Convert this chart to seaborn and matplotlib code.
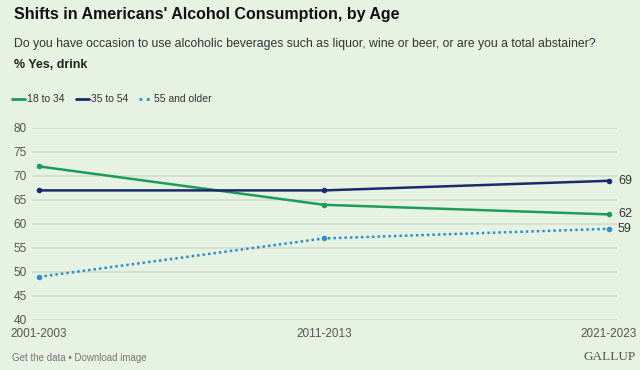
import pandas as pd
import matplotlib
matplotlib.use("Agg")
import matplotlib.pyplot as plt
import seaborn as sns

periods = ["2001-2003", "2011-2013", "2021-2023"]
age_18_34 = [72, 64, 62]
age_35_54 = [67, 67, 69]
age_55_up = [49, 57, 59]
groups = ["18 to 34", "35 to 54", "55 and older"]
yticks = [40, 45, 50, 55, 60, 65, 70, 75, 80]

BG = "#E6F2E2"
GREEN = "#1E9A5A"
NAVY = "#1B2A6B"
BLUE = "#2E8FD0"
colors = {"18 to 34": GREEN, "35 to 54": NAVY, "55 and older": BLUE}

rows = []
for g, vals in zip(groups, [age_18_34, age_35_54, age_55_up]):
    for i, (p, v) in enumerate(zip(periods, vals)):
        rows.append({"pos": i, "period": p, "group": g, "pct": v})
df = pd.DataFrame(rows)

sns.set_style("white")
plt.rcParams["font.family"] = ["Liberation Sans", "DejaVu Sans"]

W, H = 640, 370
fig = plt.figure(figsize=(W / 100, H / 100), dpi=100, facecolor=BG)
ax = fig.add_axes([32 / W, 50 / H, 585 / W, 192 / H], facecolor=BG)

sns.lineplot(data=df, x="pos", y="pct", hue="group", style="group",
             palette=colors, dashes={"18 to 34": "", "35 to 54": "",
                                     "55 and older": (1, 1.2)},
             markers={"18 to 34": "o", "35 to 54": "o", "55 and older": "o"},
             markersize=4, markeredgewidth=0, linewidth=1.8, ax=ax,
             legend=False, clip_on=False)

for g, vals in zip(groups, [age_18_34, age_35_54, age_55_up]):
    ax.text(2 + 9 / 285, vals[-1], str(vals[-1]), va="center", ha="left",
            fontsize=9, color="#333333")

ax.set_xlim(-7 / 285, 2 + 8 / 285)
ax.set_ylim(40, 80)
ax.set_yticks(yticks)
ax.set_xticks(range(len(periods)))
ax.set_xticklabels(periods)
ax.grid(axis="y", color="#D2DDCF", linewidth=1.2)
ax.set_axisbelow(True)
for s in ax.spines.values():
    s.set_visible(False)
ax.tick_params(axis="both", length=0, labelsize=8.5, colors="#555555")
ax.tick_params(axis="y", pad=4)
ax.tick_params(axis="x", pad=6)
ax.set_xlabel("")
ax.set_ylabel("")

fig.text(14 / W, 1 - 15 / H, "Shifts in Americans' Alcohol Consumption, by Age",
         fontsize=11.5, fontweight="bold", va="center", color="#111111")
fig.text(14 / W, 1 - 44 / H,
         "Do you have occasion to use alcoholic beverages such as liquor, wine or beer, or are you a total abstainer?",
         fontsize=8.8, va="center", color="#333333")
fig.text(14 / W, 1 - 65 / H, "% Yes, drink", fontsize=9, fontweight="bold",
         va="center", color="#222222")

# legend row
lx = 12
for g in groups:
    ls = ":" if g == "55 and older" else "-"
    fig.add_artist(plt.Line2D([lx / W, (lx + 13) / W], [1 - 99 / H, 1 - 99 / H],
                              color=colors[g], linewidth=2, linestyle=ls))
    fig.text((lx + 15) / W, 1 - 99 / H, g, fontsize=7.5, va="center",
             color="#333333")
    lx += {"18 to 34": 64, "35 to 54": 63, "55 and older": 80}[g]

fig.text(12 / W, 1 - 358 / H, "Get the data \u2022 Download image", fontsize=7,
         va="center", color="#777777")
fig.text(636 / W, 1 - 357 / H, "GALLUP", fontsize=9.5, va="center", ha="right",
         color="#555555", family=["Liberation Serif", "DejaVu Serif"])

fig.savefig("out.png", dpi=100, facecolor=BG)
